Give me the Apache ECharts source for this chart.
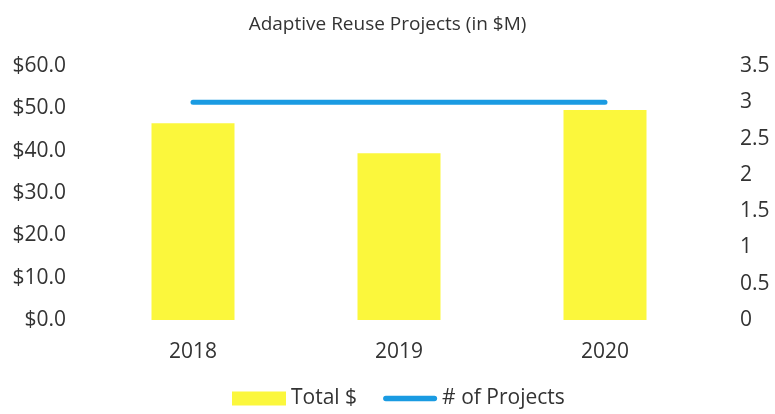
<!DOCTYPE html>
<html>
<head>
<meta charset="utf-8">
<script src="https://cdn.jsdelivr.net/npm/echarts@6/dist/echarts.min.js"></script>
<style>
  html, body { margin: 0; padding: 0; background: #fff; }
  #chart { width: 775px; height: 414px; }
</style>
</head>
<body>
<div id="chart"></div>
<script>
const years = ['2018', '2019', '2020']
const totalDollars = [46.5, 39.4, 49.6]
const projectCounts = [3, 3, 3]
const leftTicks = ['$0.0', '$10.0', '$20.0', '$30.0', '$40.0', '$50.0', '$60.0']

const chart = echarts.init(document.getElementById('chart'), null, { renderer: 'canvas' })
const font = '"Open Sans", "Liberation Sans", sans-serif'

chart.setOption({
  animation: false,
  title: {
    text: 'Adaptive Reuse Projects (in $M)',
    left: 'center',
    top: 10,
    textStyle: { color: '#333', fontSize: 19, fontWeight: 'normal', fontFamily: font }
  },
  legend: {
    bottom: 0,
    left: 227,
    itemGap: 26,
    textStyle: { color: '#333', fontSize: 21, fontFamily: font },
    data: [
      { name: 'Total $', icon: 'rect', itemStyle: { color: '#fbf73c' } },
      { name: '# of Projects', icon: 'path://M3,0 L57,0 A3,3 0 0 1 57,6 L3,6 A3,3 0 0 1 3,0 Z', itemStyle: { color: '#1a9be2' } }
    ],
    itemWidth: 54,
    itemHeight: 14
  },
  grid: { left: 90, right: 67, top: 66, bottom: 94 },
  xAxis: {
    type: 'category',
    data: years,
    axisLine: { show: false },
    axisTick: { show: false },
    axisLabel: { color: '#333', fontSize: 21, margin: 22, fontFamily: font }
  },
  yAxis: [
    {
      type: 'value',
      min: 0, max: 60, interval: 10,
      splitLine: { show: false },
      axisLine: { show: false },
      axisTick: { show: false },
      axisLabel: {
        color: '#333', fontSize: 21, margin: 24, fontFamily: font,
        formatter: (v) => leftTicks[Math.round(v / 10)]
      }
    },
    {
      type: 'value',
      min: 0, max: 3.5, interval: 0.5,
      splitLine: { show: false },
      axisLine: { show: false },
      axisTick: { show: false },
      axisLabel: { color: '#333', fontSize: 21, margin: 32, fontFamily: font, align: 'left' }
    }
  ],
  series: [
    {
      name: 'Total $',
      type: 'bar',
      data: totalDollars,
      barWidth: 83,
      itemStyle: { color: '#fbf73c' }
    },
    {
      name: '# of Projects',
      type: 'line',
      yAxisIndex: 1,
      data: projectCounts,
      symbol: 'none',
      lineStyle: { color: '#1a9be2', width: 5, cap: 'round' },
      itemStyle: { color: '#1a9be2' }
    }
  ]
})
</script>
</body>
</html>
